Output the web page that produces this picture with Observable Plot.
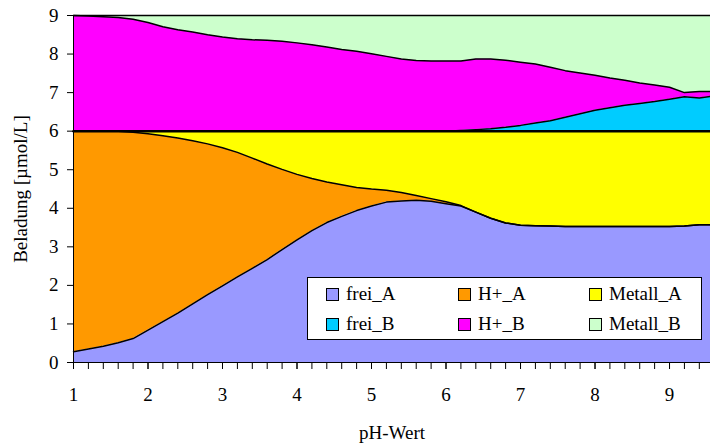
<!DOCTYPE html>
<html>
<head>
<meta charset="utf-8">
<script src="https://cdn.jsdelivr.net/npm/d3@7"></script>
<script src="https://cdn.jsdelivr.net/npm/@observablehq/plot@0.6"></script>
<style>
  html, body { margin: 0; padding: 0; background: #fff; }
  #wrap { position: relative; width: 710px; height: 445px; font-family: "Liberation Serif", Tinos, "Times New Roman", "DejaVu Serif", serif; }
  #wrap svg, #wrap svg text { font-family: "Liberation Serif", Tinos, "Times New Roman", "DejaVu Serif", serif !important; }
  #legend { position: absolute; left: 307px; top: 277px; width: 393px; height: 61px; background: #fff; border: 1px solid #000; }
  .item { position: absolute; display: flex; align-items: center; font-size: 19px; line-height: 20px; color: #000; white-space: nowrap; }
  .sw { width: 11px; height: 11px; border: 1px solid #000; margin-right: 7px; }
</style>
</head>
<body>
<div id="wrap"><div id="legend"></div></div>
<script>
// pH values (x)
const pH = [1.0,1.2,1.4,1.6,1.8,2.0,2.2,2.4,2.6,2.8,3.0,3.2,3.4,3.6,3.8,4.0,4.2,4.4,4.6,4.8,5.0,5.2,5.4,5.6,5.8,6.0,6.2,6.4,6.6,6.8,7.0,7.2,7.4,7.6,7.8,8.0,8.2,8.4,8.6,8.8,9.0,9.2,9.4,9.55];

// series names and colours
const seriesNames = ["frei_A", "H+_A", "Metall_A", "frei_B", "H+_B", "Metall_B"];
const seriesColors = ["#9999FF", "#FF9900", "#FFFF00", "#00CCFF", "#FF00FF", "#CCFFCC"];

// Beladung [µmol/L] per series (stacked in this order)
const freiA = [0.28,0.35,0.42,0.51,0.62,0.84,1.06,1.28,1.52,1.76,1.99,2.22,2.44,2.67,2.93,3.18,3.42,3.63,3.79,3.94,4.06,4.16,4.19,4.21,4.18,4.12,4.06,3.90,3.74,3.62,3.56,3.55,3.54,3.53,3.53,3.53,3.53,3.53,3.53,3.53,3.53,3.54,3.57,3.57];
const hA = [5.72,5.65,5.58,5.49,5.35,5.09,4.82,4.54,4.23,3.91,3.58,3.23,2.86,2.48,2.08,1.70,1.35,1.05,0.82,0.60,0.44,0.31,0.22,0.12,0.07,0.05,0.01,0,0,0,0,0,0,0,0,0,0,0,0,0,0,0,0,0];
const metallA = [0,0,0,0,0.03,0.07,0.12,0.18,0.25,0.33,0.43,0.55,0.70,0.85,0.99,1.12,1.23,1.32,1.39,1.46,1.50,1.53,1.59,1.67,1.75,1.83,1.93,2.10,2.26,2.38,2.44,2.45,2.46,2.47,2.47,2.47,2.47,2.47,2.47,2.47,2.47,2.46,2.43,2.43];
const freiB = [0,0,0,0,0,0,0,0,0,0,0,0,0,0,0,0,0,0,0,0,0,0,0,0,0,0,0.02,0.04,0.06,0.10,0.15,0.21,0.27,0.36,0.45,0.54,0.61,0.67,0.72,0.77,0.83,0.89,0.86,0.90];
const hB = [3.00,2.99,2.97,2.95,2.90,2.82,2.71,2.63,2.57,2.50,2.44,2.40,2.37,2.36,2.33,2.29,2.24,2.18,2.12,2.07,2.01,1.94,1.87,1.83,1.82,1.82,1.80,1.83,1.81,1.74,1.64,1.53,1.39,1.21,1.06,0.91,0.77,0.65,0.53,0.43,0.31,0.11,0.17,0.13];
const metallB = [0.00,0.01,0.03,0.05,0.10,0.18,0.29,0.37,0.43,0.50,0.56,0.60,0.63,0.64,0.67,0.71,0.76,0.82,0.88,0.93,0.99,1.06,1.13,1.17,1.18,1.18,1.18,1.13,1.13,1.16,1.21,1.26,1.34,1.43,1.49,1.55,1.62,1.68,1.75,1.80,1.86,2.00,1.97,1.97];

// tick labels
const xTicks = [1, 2, 3, 4, 5, 6, 7, 8, 9];
const xMinorTicks = d3.range(10, 95, 2).map(d => d / 10);
const yTicks = [0, 1, 2, 3, 4, 5, 6, 7, 8, 9];

const seriesValues = [freiA, hA, metallA, freiB, hB, metallB];
const tidy = [];
seriesNames.forEach((s, i) => {
  pH.forEach((x, j) => tidy.push({ x, series: s, value: seriesValues[i][j] }));
});

const chart = Plot.plot({
  width: 710,
  height: 445,
  marginLeft: 73,
  marginRight: 0,
  marginTop: 15,
  marginBottom: 83,
  style: { fontSize: "19px", color: "#000", background: "#fff" },
  x: { domain: [1, 9.55] },
  y: { domain: [0, 9] },
  color: { domain: seriesNames, range: seriesColors },
  marks: [
    Plot.areaY(tidy, { x: "x", y: "value", z: "series", fill: "series" }),
    Plot.lineY(tidy, Plot.stackY2({
      x: "x", y: "value", z: "series", stroke: "#000",
      strokeWidth: d => d.series === "Metall_A" ? 2.5 : 1.5
    })),
    Plot.ruleX([1], { stroke: "#000", strokeWidth: 1 }),
    Plot.ruleY([0], { stroke: "#000", strokeWidth: 1 }),
    Plot.axisX({ ticks: xMinorTicks, tickSize: 7, tickFormat: () => "", label: null, stroke: "#000" }),
    Plot.axisX({ ticks: xTicks, tickSize: 7, tickPadding: 18, tickFormat: d => String(d),
      label: "pH-Wert", labelAnchor: "center", labelArrow: false, labelOffset: 76, stroke: "#000" }),
    Plot.axisY({ ticks: yTicks, tickSize: 6, tickPadding: 9, tickFormat: d => String(d),
      label: "Beladung [µmol/L]", labelAnchor: "center", labelArrow: false, labelOffset: 60, stroke: "#000" })
  ]
});
document.getElementById("wrap").prepend(chart);

// legend
const legend = document.getElementById("legend");
const colX = [18, 150, 281];
const rowY = [6, 36];
const order = [["frei_A", "H+_A", "Metall_A"], ["frei_B", "H+_B", "Metall_B"]];
order.forEach((row, r) => row.forEach((name, c) => {
  const div = document.createElement("div");
  div.className = "item";
  div.style.left = colX[c] + "px";
  div.style.top = rowY[r] + "px";
  const sw = document.createElement("span");
  sw.className = "sw";
  sw.style.background = seriesColors[seriesNames.indexOf(name)];
  div.appendChild(sw);
  div.appendChild(document.createTextNode(name));
  legend.appendChild(div);
}));
</script>
</body>
</html>
